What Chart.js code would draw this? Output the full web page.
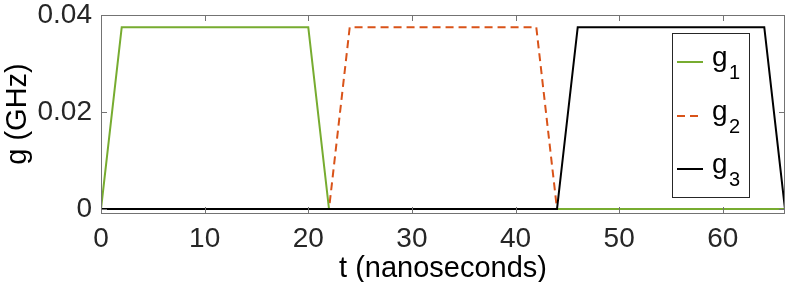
<!DOCTYPE html>
<html>
<head>
<meta charset="utf-8">
<script src="https://cdn.jsdelivr.net/npm/chart.js@4"></script>
<style>
  html, body { margin: 0; padding: 0; background: #fff; }
  #wrap { width: 789px; height: 282px; }
</style>
</head>
<body>
<div id="wrap"><canvas id="pulseChart"></canvas></div>
<script>
// time points (ns) and the three coupling pulses (GHz)
const times = [0, 2, 20, 22, 24, 42, 44, 46, 64, 66];
const g1 = [0, 0.0375, 0.0375, 0, 0, 0, 0, 0, 0, 0];
const g2 = [0, 0, 0, 0, 0.0375, 0.0375, 0, 0, 0, 0];
const g3 = [0, 0, 0, 0, 0, 0, 0, 0.0375, 0.0375, 0];
const seriesNames = ['g', 'g', 'g'];
const seriesSubs = ['1', '2', '3'];
const xTicks = [0, 10, 20, 30, 40, 50, 60];
const yTicks = [0, 0.02, 0.04];

const FONT = "'Liberation Sans', Arial, sans-serif";
const TXT = '#262626';
const AXIS = '#737373';

function toPoints(vals) {
    return times.map((t, i) => ({ x: t, y: vals[i] }));
}

// box round the plot with inward ticks on all four sides, like matlab
const boxPlugin = {
    id: 'box',
    afterDatasetsDraw(chart) {
        const ctx = chart.ctx;
        const a = chart.chartArea;
        const xs = chart.scales.x, ys = chart.scales.y;
        ctx.save();
        ctx.strokeStyle = AXIS;
        ctx.lineWidth = 1;
        ctx.strokeRect(a.left + 0.5, a.top + 0.5, a.right - a.left - 1, a.bottom - a.top);
        ctx.beginPath();
        xTicks.forEach(v => {
            const px = Math.round(xs.getPixelForValue(v)) + 0.5;
            ctx.moveTo(px, a.bottom); ctx.lineTo(px, a.bottom - 6);
            ctx.moveTo(px, a.top); ctx.lineTo(px, a.top + 6);
        });
        yTicks.forEach(v => {
            const py = Math.round(ys.getPixelForValue(v)) + 0.5;
            ctx.moveTo(a.left, py); ctx.lineTo(a.left + 6, py);
            ctx.moveTo(a.right, py); ctx.lineTo(a.right - 6, py);
        });
        ctx.stroke();
        ctx.restore();
    }
};

// legend inside the axes, with subscripts
const legendPlugin = {
    id: 'boxLegend',
    afterDraw(chart) {
        const ctx = chart.ctx;
        const bx = 672, by = 33, bw = 77, bh = 164;
        ctx.save();
        ctx.fillStyle = '#fff';
        ctx.fillRect(bx, by, bw, bh);
        ctx.strokeStyle = '#262626';
        ctx.lineWidth = 1;
        ctx.strokeRect(bx + 0.5, by + 0.5, bw, bh);
        const rows = [62, 116, 169];
        chart.data.datasets.forEach((ds, i) => {
            const y = rows[i];
            ctx.strokeStyle = ds.borderColor;
            ctx.lineWidth = 2;
            ctx.setLineDash(ds.borderDash || []);
            ctx.beginPath();
            ctx.moveTo(677, y); ctx.lineTo(703, y);
            ctx.stroke();
            ctx.setLineDash([]);
            ctx.fillStyle = '#000';
            ctx.textBaseline = 'alphabetic';
            ctx.font = '28px ' + FONT;
            ctx.fillText(seriesNames[i], 712, y + 4);
            ctx.font = '20px ' + FONT;
            ctx.fillText(seriesSubs[i], 729, y + 17);
        });
        ctx.restore();
    }
};

new Chart(document.getElementById('pulseChart'), {
    type: 'line',
    data: {
        datasets: [
            { label: 'g1', data: toPoints(g1), borderColor: '#77AC30', borderWidth: 2, order: 1 },
            { label: 'g2', data: toPoints(g2), borderColor: '#D95319', borderWidth: 2, borderDash: [8, 5], order: 2 },
            { label: 'g3', data: toPoints(g3), borderColor: '#000000', borderWidth: 2, order: 0 }
        ]
    },
    options: {
        responsive: true,
        maintainAspectRatio: false,
        animation: false,
        elements: { point: { radius: 0 }, line: { tension: 0 } },
        layout: { padding: { top: 15, right: 4, left: 0, bottom: 0 } },
        plugins: { legend: { display: false }, tooltip: { enabled: false } },
        scales: {
            x: {
                type: 'linear',
                min: 0, max: 66,
                afterBuildTicks: s => { s.ticks = xTicks.map(v => ({ value: v })); },
                afterFit: s => { s.height = 69; },
                grid: { display: false, drawTicks: false },
                border: { display: false },
                ticks: { color: TXT, font: { family: FONT, size: 28 }, padding: 9, maxRotation: 0 },
                title: { display: true, text: 't (nanoseconds)', color: '#000', font: { family: FONT, size: 29, lineHeight: 0.93 }, padding: { top: 0, bottom: 0 } }
            },
            y: {
                min: -0.0008, max: 0.04,
                afterBuildTicks: s => { s.ticks = yTicks.map(v => ({ value: v })); },
                afterFit: s => { s.width = 101; },
                grid: { display: false, drawTicks: false },
                border: { display: false },
                // small lineHeight keeps the half-label overflow from pushing the plot top down
                ticks: { color: TXT, font: { family: FONT, size: 28, lineHeight: 0.4 }, padding: 9 },
                title: { display: true, text: 'g (GHz)', color: '#000', font: { family: FONT, size: 29 }, padding: { top: 1, bottom: 0 } }
            }
        }
    },
    plugins: [boxPlugin, legendPlugin]
});
</script>
</body>
</html>
